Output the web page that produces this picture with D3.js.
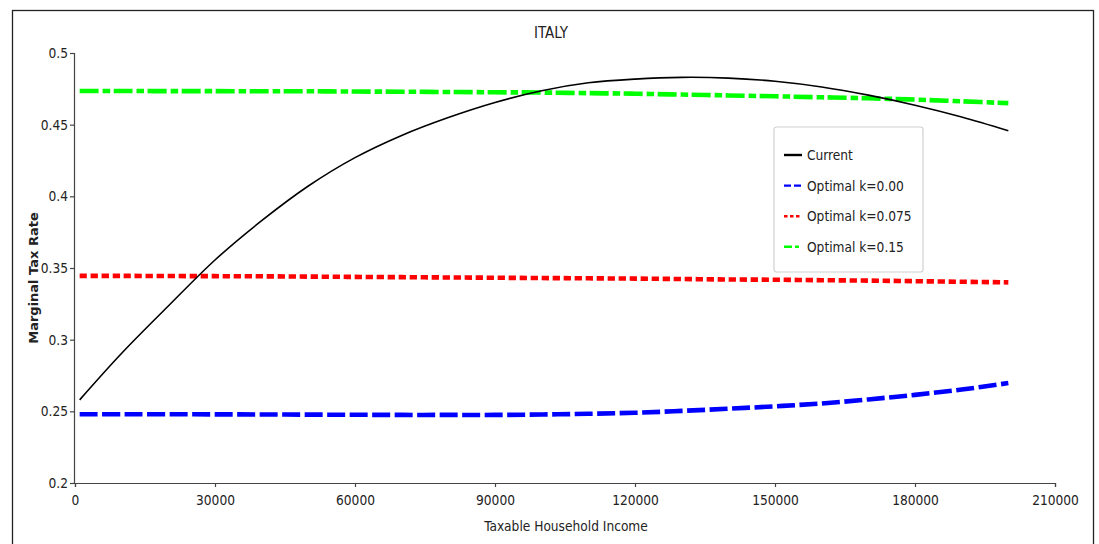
<!DOCTYPE html>
<html>
<head>
<meta charset="utf-8">
<script src="https://cdn.jsdelivr.net/npm/d3@7"></script>
<style>
  body { margin: 0; background: #fff; }
  text { font-family: "DejaVu Sans Condensed", "DejaVu Sans", sans-serif; fill: #222; }
</style>
</head>
<body>
<div id="chart"></div>
<script>
// data
let income = [1000, 10000, 20000, 30000, 40000, 50000, 60000, 70000, 80000, 90000, 100000,
  110000, 120000, 130000, 140000, 150000, 160000, 170000, 180000, 190000, 200000];
let current = [0.258, 0.2905, 0.3235, 0.3556, 0.383, 0.4072, 0.427, 0.4425, 0.455, 0.4655, 0.4737,
  0.4792, 0.4818, 0.483, 0.4825, 0.4803, 0.4763, 0.4706, 0.4636, 0.4554, 0.4458];
let optK000 = [0.248, 0.248, 0.248, 0.2479, 0.2478, 0.2477, 0.2476, 0.2475, 0.2475, 0.2475, 0.2478,
  0.2483, 0.249, 0.2503, 0.2518, 0.2535, 0.2555, 0.2583, 0.2615, 0.2652, 0.2697];
let optK075 = [0.3445, 0.3445, 0.3444, 0.3443, 0.3442, 0.344, 0.3438, 0.3436, 0.3434, 0.3432, 0.343,
  0.3428, 0.3426, 0.3423, 0.342, 0.3418, 0.3415, 0.3412, 0.3408, 0.3404, 0.34];
let optK150 = [0.4735, 0.4735, 0.4734, 0.4734, 0.4733, 0.4733, 0.4731, 0.473, 0.4728, 0.4726, 0.4724,
  0.472, 0.4716, 0.471, 0.4704, 0.4698, 0.4691, 0.4684, 0.4675, 0.4663, 0.465];
let xTicks = [0, 30000, 60000, 90000, 120000, 150000, 180000, 210000];
let yTicks = [0.2, 0.25, 0.3, 0.35, 0.4, 0.45, 0.5];

let series = [
  {name: "Current", values: current, color: "#000", width: 1.6, dash: null, legDash: null},
  {name: "Optimal k=0.00", values: optK000, color: "#0000ff", width: 4.6, dash: "18,4.5", legDash: "7,3"},
  {name: "Optimal k=0.075", values: optK075, color: "#ff0000", width: 4.6, dash: "7.3,3.7", legDash: "3.5,2.5"},
  {name: "Optimal k=0.15", values: optK150, color: "#00ff00", width: 4.6, dash: "19,4,7.5,3.5", legDash: "8,3,4,3"}
];

let svgWidth = 1099;
let svgHeight = 544;

let svg = d3.select("#chart")
  .append("svg")
  .attr("width", svgWidth)
  .attr("height", svgHeight);

// outer frame (bottom edge runs off the page)
svg.append("rect")
  .attr("x", 12.5).attr("y", 10.5)
  .attr("width", 1081).attr("height", 600)
  .attr("fill", "none")
  .attr("stroke", "#222")
  .attr("stroke-width", 1.3);

let x = d3.scaleLinear().domain([0, 210000]).range([75, 1055]);
let y = d3.scaleLinear().domain([0.2, 0.5]).range([483, 53]);

// axes
let xAxis = svg.append("g")
  .attr("transform", "translate(0,483)")
  .call(d3.axisBottom(x).tickValues(xTicks).tickFormat(d3.format("d")).tickSize(4).tickPadding(8));

let yAxis = svg.append("g")
  .attr("transform", "translate(74,0)")
  .call(d3.axisLeft(y).tickValues(yTicks).tickFormat(d => String(+d.toFixed(2))).tickSize(4).tickPadding(2));

svg.selectAll(".domain, .tick line").attr("stroke", "#444").attr("stroke-width", 1.2);
svg.selectAll(".tick text").style("font-size", "13.6px").attr("fill", "#222")
  .style("font-family", "'DejaVu Sans Condensed', sans-serif");

// lines
let line = d3.line()
  .x((d, i) => x(income[i]))
  .y(d => y(d))
  .curve(d3.curveCatmullRom);

svg.append("g").selectAll("path")
  .data(series.slice().reverse())
  .enter()
  .append("path")
  .attr("d", d => line(d.values))
  .attr("fill", "none")
  .attr("stroke", d => d.color)
  .attr("stroke-width", d => d.width)
  .attr("stroke-dasharray", d => d.dash);

// titles
svg.append("text")
  .attr("x", 551).attr("y", 38)
  .attr("text-anchor", "middle")
  .style("font-size", "15px")
  .text("ITALY");

svg.append("text")
  .attr("x", 566).attr("y", 531)
  .attr("text-anchor", "middle")
  .style("font-size", "13.6px")
  .text("Taxable Household Income");

svg.append("text")
  .attr("transform", "translate(38,278) rotate(-90)")
  .attr("text-anchor", "middle")
  .style("font-size", "13px")
  .style("font-weight", "bold")
  .style("font-family", "'DejaVu Sans', sans-serif")
  .text("Marginal Tax Rate");

// legend
let legend = svg.append("g").attr("transform", "translate(774,127)");

legend.append("rect")
  .attr("width", 149).attr("height", 145)
  .attr("rx", 2.5)
  .attr("fill", "#fff")
  .attr("stroke", "#d0d0d0")
  .attr("stroke-width", 1.2);

let rows = legend.selectAll(".row")
  .data(series)
  .enter()
  .append("g")
  .attr("transform", (d, i) => `translate(0,${28 + i * 30.6})`);

rows.append("line")
  .attr("x1", 10).attr("x2", 28)
  .attr("stroke", d => d.color)
  .attr("stroke-width", 2.4)
  .attr("stroke-dasharray", d => d.legDash);

rows.append("text")
  .attr("x", 33).attr("y", 5)
  .style("font-size", "13.6px")
  .text(d => d.name);
</script>
</body>
</html>
